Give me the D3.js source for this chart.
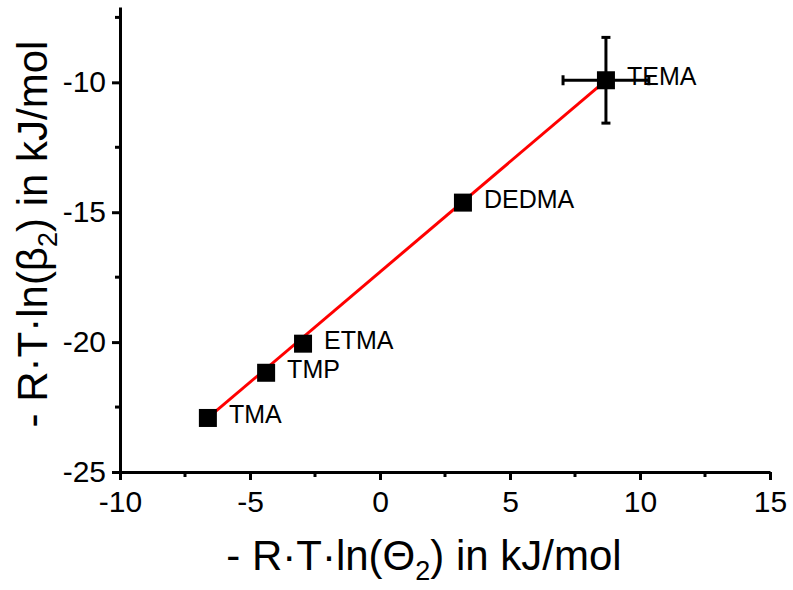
<!DOCTYPE html>
<html>
<head>
<meta charset="utf-8">
<script src="https://cdn.jsdelivr.net/npm/d3@7"></script>
<style>
  body { margin: 0; background: #fff; }
  text { font-family: "Liberation Sans", Arial, sans-serif; fill: #000; }
</style>
</head>
<body>
<svg id="chart" width="793" height="590"></svg>
<script>
// compounds and their values
var names = ["TMA", "TMP", "ETMA", "DEDMA", "TEMA"];
var xVals = [-6.62, -4.38, -2.96, 3.19, 8.69];
var yVals = [-22.92, -21.18, -20.06, -14.63, -9.92];
var xErr = [0, 0, 0, 0, 1.65];
var yErr = [0, 0, 0, 0, 1.65];
// linear fit line: slope, intercept, x range
var fitSlope = 0.849;
var fitIntercept = -17.3;
var fitRange = [-6.62, 8.69];

var xTicks = [-10, -5, 0, 5, 10, 15];
var yTicks = [-25, -20, -15, -10];

var svg = d3.select("#chart");

var x = d3.scaleLinear().domain([-10, 15]).range([120, 770]);
var y = d3.scaleLinear().domain([-25, -7.1]).range([472, 7]);

// minor ticks
var xMinor = d3.range(-7.5, 15, 5);
var yMinor = d3.range(-22.5, -7, 5);

var fmt = d => String(d);   // plain hyphen, as in the figure

var gx = svg.append("g").attr("transform", "translate(0," + y(-25) + ")");
gx.call(d3.axisBottom(x).tickValues(xTicks).tickSize(8).tickSizeOuter(0).tickPadding(8).tickFormat(fmt));
gx.selectAll(".minor").data(xMinor).enter().append("line")
    .attr("x1", d => x(d)).attr("x2", d => x(d)).attr("y1", 0).attr("y2", 5)
    .attr("stroke", "#000").attr("stroke-width", 3);

var gy = svg.append("g").attr("transform", "translate(" + x(-10) + ",0)");
gy.call(d3.axisLeft(y).tickValues(yTicks).tickSize(8).tickSizeOuter(0).tickPadding(6).tickFormat(fmt));
gy.selectAll(".minor").data(yMinor).enter().append("line")
    .attr("y1", d => y(d)).attr("y2", d => y(d)).attr("x1", 0).attr("x2", -5)
    .attr("stroke", "#000").attr("stroke-width", 3);

svg.selectAll(".domain").attr("stroke", "#000").attr("stroke-width", 3);
svg.selectAll(".tick line").attr("stroke", "#000").attr("stroke-width", 3);
svg.selectAll(".tick text").attr("font-size", 30).attr("font-family", "Liberation Sans, Arial, sans-serif").attr("fill", "#000");
gx.selectAll(".tick text").attr("dy", "0.8em");

// fit line
svg.append("line")
    .attr("x1", x(fitRange[0])).attr("y1", y(fitSlope * fitRange[0] + fitIntercept))
    .attr("x2", x(fitRange[1])).attr("y2", y(fitSlope * fitRange[1] + fitIntercept))
    .attr("stroke", "#ff0000").attr("stroke-width", 3);

// error bars
var data = names.map((n, i) => ({name: n, x: xVals[i], y: yVals[i], ex: xErr[i], ey: yErr[i]}));
var eb = svg.append("g").selectAll("g").data(data.filter(d => d.ex > 0 || d.ey > 0)).enter().append("g")
    .attr("stroke", "#000").attr("stroke-width", 3);
eb.append("line").attr("x1", d => x(d.x)).attr("x2", d => x(d.x))
    .attr("y1", d => y(d.y - d.ey)).attr("y2", d => y(d.y + d.ey));
eb.append("line").attr("y1", d => y(d.y)).attr("y2", d => y(d.y))
    .attr("x1", d => x(d.x - d.ex)).attr("x2", d => x(d.x + d.ex));
eb.append("line").attr("x1", d => x(d.x) - 4.5).attr("x2", d => x(d.x) + 4.5)
    .attr("y1", d => y(d.y - d.ey)).attr("y2", d => y(d.y - d.ey));
eb.append("line").attr("x1", d => x(d.x) - 4.5).attr("x2", d => x(d.x) + 4.5)
    .attr("y1", d => y(d.y + d.ey)).attr("y2", d => y(d.y + d.ey));
eb.append("line").attr("y1", d => y(d.y) - 5).attr("y2", d => y(d.y) + 5)
    .attr("x1", d => x(d.x - d.ex)).attr("x2", d => x(d.x - d.ex));
eb.append("line").attr("y1", d => y(d.y) - 5).attr("y2", d => y(d.y) + 5)
    .attr("x1", d => x(d.x + d.ex)).attr("x2", d => x(d.x + d.ex));

// markers
var s = 18;
svg.append("g").selectAll("rect").data(data).enter().append("rect")
    .attr("x", d => x(d.x) - s / 2).attr("y", d => y(d.y) - s / 2)
    .attr("width", s).attr("height", s).attr("fill", "#000");

// point labels
svg.append("g").selectAll("text").data(data).enter().append("text")
    .attr("x", d => x(d.x) + 21).attr("y", d => y(d.y) + 5)
    .attr("font-size", 25)
    .text(d => d.name);

// x axis title
var xt = svg.append("text").attr("x", 424).attr("y", 570).attr("text-anchor", "middle").attr("font-size", 42);
xt.append("tspan").text("- R\u00b7T\u00b7ln(\u0398");
xt.append("tspan").attr("font-size", 27).attr("dy", 10).text("2");
xt.append("tspan").attr("dy", -10).text(") in kJ/mol");

// y axis title
var yt = svg.append("text").attr("transform", "translate(47,234) rotate(-90)").attr("text-anchor", "middle").attr("font-size", 42);
yt.append("tspan").text("- R\u00b7T\u00b7ln(\u03b2");
yt.append("tspan").attr("font-size", 27).attr("dy", 10).text("2");
yt.append("tspan").attr("dy", -10).text(") in kJ/mol");
</script>
</body>
</html>
